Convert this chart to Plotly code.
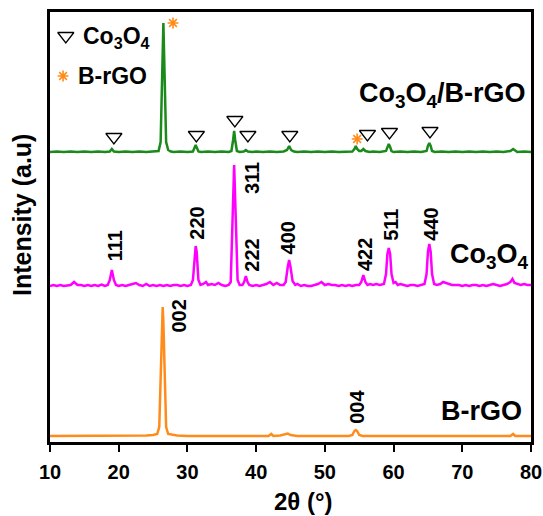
import plotly.graph_objects as go

# ---------------- data (y in arbitrary stacked units) -------------
# B-rGO pattern
brgo_x = [10, 12, 14, 16, 18, 20, 22, 24, 25, 25.6, 25.9, 26.1, 26.3, 26.4, 26.5, 26.7, 26.9, 27.2, 27.8, 28.5,
          30, 32, 34, 36, 38, 40, 41.8, 42.2, 42.5, 43.5, 44.2, 44.6, 45.0, 46, 48, 50, 52, 53.5, 54.0, 54.3,
          54.5, 54.7, 55.0, 55.5, 57, 60, 63, 66, 70, 74, 77, 77.4, 77.7, 80]
brgo_y = [6, 6, 6, 6, 6, 6, 6, 6.5, 7, 8, 15, 60, 120, 135, 120, 60, 15, 8, 7, 6.5,
          6, 6, 6, 6, 6, 6, 6, 8, 6, 6.5, 7.5, 8.5, 7, 6, 6, 6, 6, 6, 7, 11,
          12, 11, 7, 6, 6, 6, 6, 6, 6, 6, 6, 8, 6, 6]

# Co3O4 pattern
co_x = [10, 10.5, 11, 11.5, 12, 12.5, 13, 13.5, 14, 14.5, 15, 15.5, 16, 16.5, 17, 17.5, 18, 18.4, 18.7, 19.0,
        19.3, 19.6, 20, 20.5, 21, 21.5, 22, 22.5, 23, 23.5, 24, 24.5, 25, 25.5, 26, 26.5, 27, 27.5, 28, 28.5,
        29, 29.5, 30, 30.5, 30.8, 31.05, 31.2, 31.35, 31.6, 31.9, 32.3, 32.7, 33, 33.5, 34, 34.5, 35, 35.5, 36, 36.3,
        36.55, 36.8, 37.05, 37.3, 37.6, 38.0, 38.25, 38.5, 38.75, 39.0, 39.5, 40, 40.5, 41, 41.5, 42, 42.5, 43, 43.5, 44,
        44.3, 44.6, 44.8, 45.0, 45.3, 45.7, 46, 46.5, 47, 47.5, 48, 48.5, 49, 49.5, 50, 50.5, 51, 51.5, 52, 52.5,
        53, 53.5, 54, 54.5, 55, 55.3, 55.6, 55.9, 56.2, 56.6, 57, 57.5, 58, 58.6, 58.9, 59.1, 59.3, 59.5, 59.7, 60,
        60.3, 60.6, 61, 61.5, 62, 62.5, 63, 63.5, 64, 64.5, 64.8, 65.0, 65.2, 65.4, 65.6, 65.9, 66.3, 66.8, 67.2, 67.6,
        68, 68.5, 69, 69.5, 70, 70.5, 71, 71.5, 72, 72.5, 73, 73.5, 74, 74.5, 75, 75.5, 76, 76.5, 77, 77.3,
        77.6, 78, 78.5, 79, 79.5, 80]
co_y = [156, 157, 156, 157, 156, 156.5, 157, 160, 157, 157, 156, 157, 156, 157, 156, 157.5, 156, 157, 162, 172,
        162, 157, 156, 157, 156, 157, 158, 159, 157, 156, 158, 156, 157, 156, 157, 156, 157, 156, 157, 157,
        156, 157, 156, 157, 162, 190, 196, 190, 162, 157, 158, 160, 157, 158, 157, 159, 157, 156, 157, 160,
        220, 277, 220, 162, 157, 157, 160, 166, 160, 157, 156, 157, 156, 157, 158, 160, 157, 159, 157, 157,
        160, 175, 182, 175, 161, 157, 158, 156, 157, 156, 156, 157, 158, 160, 157, 158, 157, 157, 156, 157,
        156, 157, 156, 157, 157, 160, 167, 160, 157, 158, 157, 158, 157, 158, 168, 188, 194, 188, 168, 159,
        160, 157, 158, 157, 156, 157, 157, 156, 157, 158, 168, 190, 198, 190, 168, 158, 157, 158, 160, 159,
        158, 157, 157, 157, 156, 157, 156, 157, 157, 156, 157, 156, 157, 158, 157, 156, 157, 158, 160, 163,
        159, 158, 157, 158, 157, 157]

# Co3O4/B-rGO composite pattern
comp_x = [10, 11, 12, 13, 14, 15, 16, 17, 18, 18.7, 19.0, 19.3, 20, 21, 22, 23, 24, 25, 25.8, 26.1,
          26.3, 26.5, 26.7, 26.9, 27.2, 27.6, 28, 29, 30, 30.8, 31.2, 31.6, 32, 33, 34, 35, 36, 36.4, 36.65, 36.8,
          36.95, 37.2, 37.6, 38.2, 38.5, 38.8, 39.5, 40, 41, 42, 43, 44, 44.5, 44.8, 45.1, 45.5, 46, 47, 48, 49,
          50, 51, 52, 53, 54, 54.3, 54.5, 54.7, 55.0, 55.3, 55.6, 55.9, 56.5, 57, 58, 58.9, 59.1, 59.3, 59.5, 59.7,
          60, 61, 62, 63, 64, 64.8, 65.0, 65.2, 65.4, 65.6, 66, 67, 68, 69, 70, 71, 72, 73, 74, 75,
          76, 77, 77.4, 77.8, 78, 79, 80]
comp_y = [290, 290.5, 290, 290.5, 290, 290.5, 290, 290.5, 290, 290.5, 293, 290.5, 290, 290.5, 290, 290.5, 290, 290.5, 291, 300,
          360, 419, 360, 300, 292, 290.5, 290, 290.5, 290, 290.5, 297, 290.5, 290, 290.5, 290, 290.5, 290, 291, 302, 311,
          302, 291, 290, 290.5, 292, 290.5, 290, 290.5, 290, 290.5, 290, 290.5, 292, 296, 292, 290.5, 290, 290.5, 290, 290.5,
          290, 290.5, 290, 290.5, 290.5, 293, 296, 293, 291, 291, 293, 291, 290, 290.5, 290, 291, 295, 298, 295, 291,
          290, 290.5, 290, 290.5, 290, 291, 296, 299, 296, 291, 290, 290.5, 290, 290.5, 290, 290.5, 290, 290.5, 290, 290.5,
          290, 291, 293, 291, 290, 290.5, 290]

# Co3O4 reflections marked with triangles on the composite pattern
tri_x = [19.3, 31.3, 36.9, 38.8, 44.9, 56.2, 59.4, 65.3]
tri_y = [305, 307, 322, 307, 307, 308, 310, 311]
# B-rGO reflections marked with asterisks on the composite pattern
star_x = [27.9, 54.7]
star_y = [419, 303]

# hkl labels
hkl_text = ["111", "220", "311", "222", "400", "422", "511", "440", "002", "004"]
hkl_x = [19.5, 31.35, 39.4, 39.35, 44.7, 55.85, 59.6, 65.4, 28.7, 54.65]
hkl_y = [196, 219, 264, 187, 204, 187, 217, 218, 126, 35]

# series names
names = ["Co<sub>3</sub>O<sub>4</sub>/B-rGO", "Co<sub>3</sub>O<sub>4</sub>", "B-rGO"]
name_x = [67.05, 73.9, 72.8]
name_y = [347, 186, 31]

GREEN = "#1a8a1a"
MAGENTA = "#ff00ff"
ORANGE = "#ff8c1a"

fig = go.Figure()
fig.add_trace(go.Scatter(x=brgo_x, y=brgo_y, mode="lines", line=dict(color=ORANGE, width=2.5), showlegend=False))
fig.add_trace(go.Scatter(x=co_x, y=co_y, mode="lines", line=dict(color=MAGENTA, width=2.5), showlegend=False))
fig.add_trace(go.Scatter(x=comp_x, y=comp_y, mode="lines", line=dict(color=GREEN, width=2.5), showlegend=False))

fig.add_trace(go.Scatter(x=tri_x, y=tri_y, mode="markers",
                         marker=dict(symbol="triangle-down-open", size=14, color="black", line=dict(width=1.3)),
                         showlegend=False))
fig.add_trace(go.Scatter(x=star_x, y=star_y, mode="markers",
                         marker=dict(symbol="asterisk-open", size=9, color=ORANGE, line=dict(width=1.6, color=ORANGE)),
                         showlegend=False))

# key (top-left)
fig.add_trace(go.Scatter(x=[12.3], y=[406], mode="markers",
                         marker=dict(symbol="triangle-down-open", size=14, color="black", line=dict(width=1.3)),
                         showlegend=False))
fig.add_trace(go.Scatter(x=[11.9], y=[366], mode="markers",
                         marker=dict(symbol="asterisk-open", size=9, color=ORANGE, line=dict(width=1.6, color=ORANGE)),
                         showlegend=False))
fig.add_annotation(x=14.5, y=405, xref="x", yref="y", text="Co<sub>3</sub>O<sub>4</sub>", showarrow=False,
                   xanchor="left", yanchor="middle", font=dict(size=23, color="black"))
fig.add_annotation(x=13.8, y=366, xref="x", yref="y", text="B-rGO", showarrow=False,
                   xanchor="left", yanchor="middle", font=dict(size=23, color="black"))

for t, xx, yy in zip(hkl_text, hkl_x, hkl_y):
    fig.add_annotation(x=xx, y=yy, xref="x", yref="y", text=t, showarrow=False, textangle=-90,
                       font=dict(size=20, color="black"))
for t, xx, yy in zip(names, name_x, name_y):
    fig.add_annotation(x=xx, y=yy, xref="x", yref="y", text=t, showarrow=False,
                       font=dict(size=27, color="black"))

# axis titles
fig.add_annotation(x=0.526, y=-0.138, xref="paper", yref="paper", text="2θ (°)", showarrow=False,
                   xanchor="center", yanchor="middle", font=dict(size=24, color="black"))
fig.add_annotation(x=-0.058, y=0.528, xref="paper", yref="paper", text="Intensity (a.u)", showarrow=False,
                   textangle=-90, xanchor="center", yanchor="middle", font=dict(size=25, color="black"))

fig.update_layout(
    width=543, height=516,
    margin=dict(l=50, r=12, t=12, b=74),
    paper_bgcolor="white", plot_bgcolor="white",
    font=dict(family="Liberation Sans, Arial, sans-serif", color="black", weight="bold"),
    showlegend=False,
)
fig.update_xaxes(range=[10, 80], dtick=10, tick0=10, ticks="outside", ticklen=7, tickwidth=2, tickcolor="black",
                 showline=True, linewidth=2.5, linecolor="black", mirror=True, showgrid=False, zeroline=False,
                 automargin=False, ticklabelstandoff=3,
                 tickfont=dict(size=20))
fig.update_yaxes(range=[0, 430], showticklabels=False, ticks="", showline=True, linewidth=2.5, linecolor="black",
                 mirror=True, showgrid=False, zeroline=False, automargin=False)

fig.write_html("out.html")
